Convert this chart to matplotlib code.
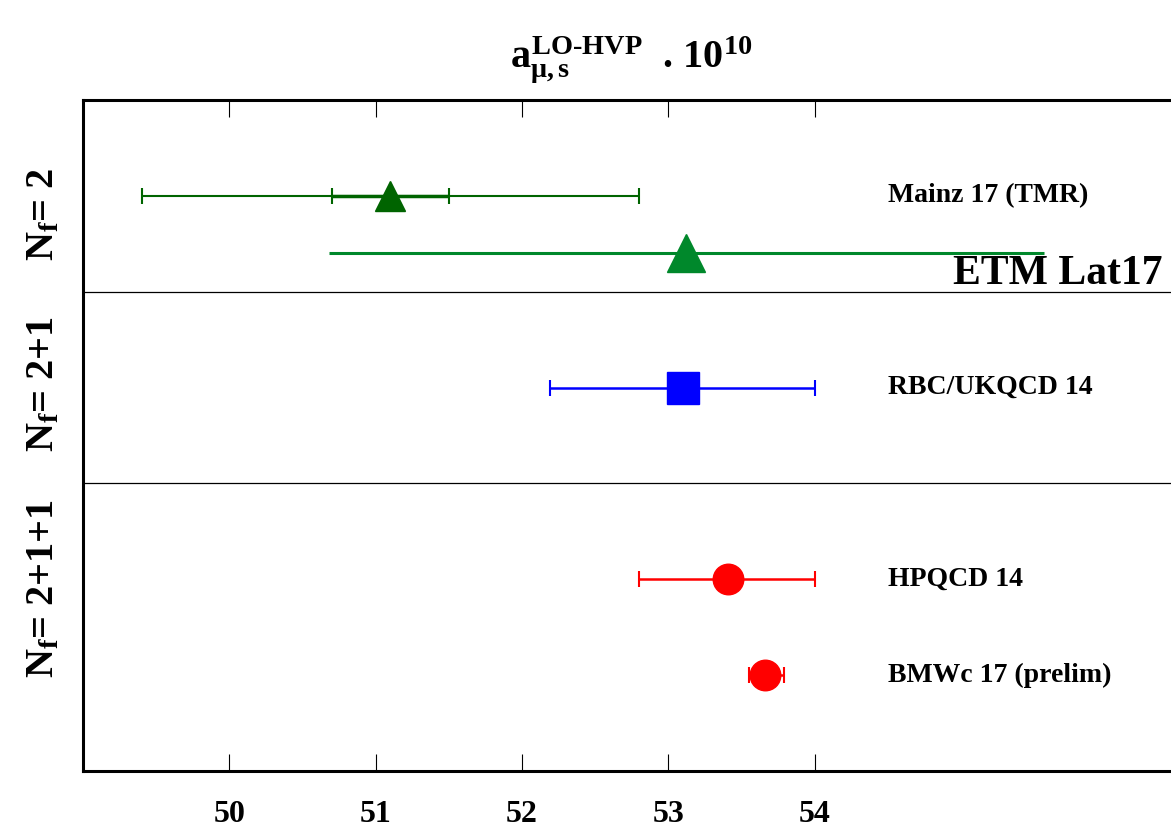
import matplotlib
matplotlib.use("Agg")
import matplotlib.pyplot as plt

plt.rcParams['font.family'] = ['Liberation Serif', 'DejaVu Serif']
plt.rcParams['font.weight'] = 'bold'
plt.rcParams['mathtext.fontset'] = 'custom'
plt.rcParams['mathtext.rm'] = 'Liberation Serif:bold'
plt.rcParams['mathtext.it'] = 'Liberation Serif:bold'
plt.rcParams['mathtext.bf'] = 'Liberation Serif:bold'

# data: central value, lower/upper errors, row position
labels = ['Mainz 17 (TMR)', 'ETM Lat17', 'RBC/UKQCD 14', 'HPQCD 14', 'BMWc 17 (prelim)']
values = [51.10, 53.12, 53.10, 53.41, 53.66]
err_lo = [1.70, 2.44, 0.91, 0.61, 0.11]
err_hi = [1.70, 2.45, 0.90, 0.59, 0.13]
rows = [1.0, 1.6, 3.0, 5.0, 6.0]
mainz_stat = 0.40

groups = ['$N_f$= 2', '$N_f$= 2+1', '$N_f$= 2+1+1']
group_y = [1.2, 2.97, 5.1]
separators = [2.0, 4.0]
xticks = [50, 51, 52, 53, 54]

fig = plt.figure(figsize=(11.71, 8.27), dpi=100)
ax = fig.add_axes([0.0709, 0.0677, 0.937, 0.8114])

# Mainz: total and statistical error bars
ax.errorbar(values[0], rows[0], xerr=[[err_lo[0]], [err_hi[0]]], fmt='none',
            ecolor='#006400', elinewidth=1.5, capsize=6, capthick=1.5)
ax.errorbar(values[0], rows[0], xerr=mainz_stat, fmt='^', color='#006400',
            ms=22, elinewidth=2.5, capsize=6, capthick=1.5, mec='#006400')
# ETM: no caps
ax.errorbar(values[1], rows[1], xerr=[[err_lo[1]], [err_hi[1]]], fmt='^',
            color='#00882b', ms=27, elinewidth=2.2, capsize=0)
ax.errorbar(values[2], rows[2], xerr=[[err_lo[2]], [err_hi[2]]], fmt='s',
            color='#0000ff', ms=23.5, elinewidth=1.8, capsize=6, capthick=1.5)
for i in (3, 4):
    ax.errorbar(values[i], rows[i], xerr=[[err_lo[i]], [err_hi[i]]], fmt='o',
                color='#ff0000', ms=22, elinewidth=1.8, capsize=6, capthick=1.5)

for i, lab in enumerate(labels):
    if lab == 'ETM Lat17':
        ax.text(54.95, 1.82, lab, fontsize=30, fontweight='bold', va='center', ha='left')
    else:
        ax.text(54.5, rows[i], lab, fontsize=20, fontweight='bold', va='center', ha='left')

for s in separators:
    ax.axhline(s, color='black', lw=0.9)

ytr = ax.get_yaxis_transform()
for g, gy in zip(groups, group_y):
    ax.text(-0.036, gy, g, transform=ytr, rotation=90, fontsize=29,
            ha='center', va='center')

ax.set_xlim(49, 56.5)
ax.set_ylim(7, 0)
ax.set_yticks([])
ax.set_xticks(xticks)
ax.set_xticklabels([str(t) for t in xticks])
ax.tick_params(axis='x', direction='in', length=12, width=0.8, top=True,
               labelsize=23, pad=21)
for sp in ax.spines.values():
    sp.set_linewidth(2.2)

ax.text(0.5, 1.048,
        r'$a_{\mu,s}^{LO\text{-}HVP}$  . $10^{10}$',
        transform=ax.transAxes, ha='center', va='baseline', fontsize=29)

fig.savefig('out.png', dpi=100)
